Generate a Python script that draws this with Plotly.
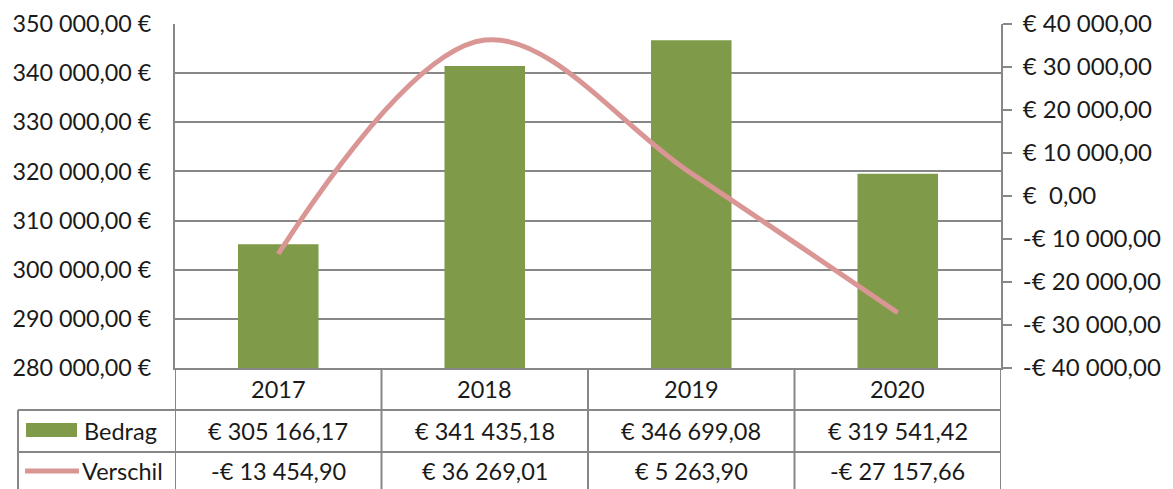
import plotly.graph_objects as go

years = ["2017", "2018", "2019", "2020"]
bedrag = [305166.17, 341435.18, 346699.08, 319541.42]
verschil = [-13454.90, 36269.01, 5263.90, -27157.66]
bedrag_txt = ["€ 305 166,17", "€ 341 435,18", "€ 346 699,08", "€ 319 541,42"]
verschil_txt = ["-€ 13 454,90", "€ 36 269,01", "€ 5 263,90", "-€ 27 157,66"]
left_ticks = [280000, 290000, 300000, 310000, 320000, 330000, 340000, 350000]
left_ticktext = ["280 000,00 €", "290 000,00 €", "300 000,00 €", "310 000,00 €",
                 "320 000,00 €", "330 000,00 €", "340 000,00 €", "350 000,00 €"]
right_ticks = [-40000, -30000, -20000, -10000, 0, 10000, 20000, 30000, 40000]
right_ticktext = ["-€ 40 000,00", "-€ 30 000,00", "-€ 20 000,00", "-€ 10 000,00",
                  "€  0,00", "€ 10 000,00", "€ 20 000,00", "€ 30 000,00", "€ 40 000,00"]

GREEN = "#7F9A48"
PINK = "#D99694"
GRID = "#878787"
TXT = "#1a1a1a"
FONT = "Lato"
FS = 23.5
LFS = 23.3
RFS = 24

OFF = 8  # page body margin
W, H = 1173 - OFF, 489 - OFF
L, T = 175 - OFF, 24 - OFF
R = W - (1001 - OFF)
B = H - (368 - OFF)
PW, PH = W - L - R, H - T - B

def px(x):
    return (x - OFF - L) / PW

def py(y):
    return (H - B - (y - OFF)) / PH

fig = go.Figure()
fig.add_trace(go.Bar(x=years, y=bedrag, marker_color=GREEN, marker_line_width=0,
                     name="Bedrag", yaxis="y"))
fig.add_trace(go.Scatter(x=years, y=verschil, mode="lines",
                         line=dict(color=PINK, width=5, shape="spline", smoothing=1.0),
                         name="Verschil", yaxis="y2"))

shapes = []
line = dict(color=GRID, width=2)
for yy in [410, 452]:
    shapes.append(dict(type="line", xref="paper", yref="paper", x0=px(18), x1=px(1001),
                       y0=py(yy), y1=py(yy), line=line))
for xb in [-0.5, 0.5, 1.5, 2.5, 3.5]:
    shapes.append(dict(type="line", xref="x", yref="paper", x0=xb, x1=xb,
                       y0=0, y1=py(492), line=line))
shapes.append(dict(type="line", xref="paper", yref="paper", x0=px(18), x1=px(18),
                   y0=py(410), y1=py(492), line=line))
shapes.append(dict(type="rect", xref="paper", yref="paper", x0=px(26), x1=px(77),
                   y0=py(437), y1=py(423), fillcolor=GREEN, line=dict(width=0)))
shapes.append(dict(type="line", xref="paper", yref="paper", x0=px(25), x1=px(79),
                   y0=py(471), y1=py(471), line=dict(color=PINK, width=5)))

ann = []
def txt(x, y, s, xref="x", xanchor="center"):
    ann.append(dict(x=x, y=y, xref=xref, yref="paper", text=s, showarrow=False,
                    xanchor=xanchor, yanchor="middle",
                    font=dict(family=FONT, size=FS, color=TXT)))

for i, yr in enumerate(years):
    txt(i, py(389), yr)
    txt(i, py(431), bedrag_txt[i])
    txt(i, py(471), verschil_txt[i])
txt(px(82), py(431), "Bedrag", xref="paper", xanchor="left")
txt(px(80), py(471), "Verschil", xref="paper", xanchor="left")

fig.update_layout(
    width=W, height=H,
    margin=dict(l=L, r=R, t=T, b=B, pad=0, autoexpand=False),
    paper_bgcolor="white", plot_bgcolor="white",
    showlegend=False,
    bargap=0.61,
    font=dict(family=FONT, size=FS, color=TXT),
    xaxis=dict(type="category", range=[-0.5, 3.5], showticklabels=False, ticks="",
               showgrid=False, showline=True, linecolor=GRID, linewidth=2, zeroline=False,
               automargin=False),
    yaxis=dict(range=[280000, 350000], tickvals=left_ticks, ticktext=left_ticktext,
               showgrid=True, gridcolor=GRID, gridwidth=2, showline=True, linecolor=GRID,
               linewidth=2, ticks="", ticklabelstandoff=17, zeroline=False,
               automargin=False, tickfont=dict(size=LFS)),
    yaxis2=dict(range=[-40000, 40000], tickvals=right_ticks, ticktext=right_ticktext,
                overlaying="y", side="right", showgrid=False, showline=True, linecolor=GRID,
                linewidth=2, ticks="outside", ticklen=9, tickwidth=2, tickcolor=GRID,
                ticklabelstandoff=6, zeroline=False, automargin=False,
                tickfont=dict(size=RFS)),
    shapes=shapes,
    annotations=ann,
)

fig.write_html("out.html")
